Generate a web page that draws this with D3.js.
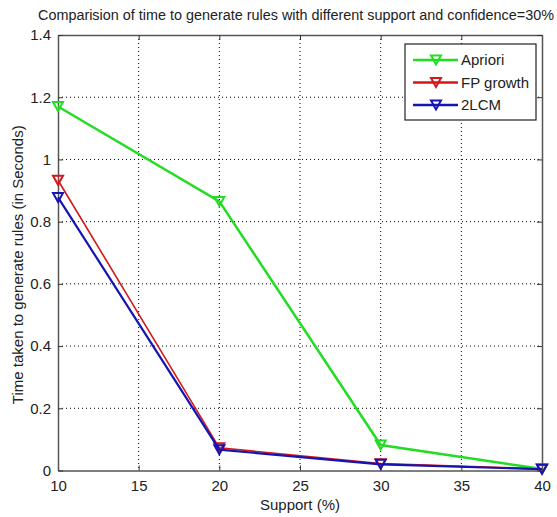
<!DOCTYPE html>
<html>
<head>
<meta charset="utf-8">
<script src="https://cdn.jsdelivr.net/npm/d3@7"></script>
<style>
  body { margin: 0; background: #fff; }
  text { font-family: "Liberation Sans", Arial, sans-serif; fill: #222; }
</style>
</head>
<body>
<svg id="chart"></svg>
<script>
// Data
const support = [10, 20, 30, 40];
const apriori = [1.17, 0.865, 0.082, 0.005];
const fpGrowth = [0.933, 0.073, 0.022, 0.005];
const lcm2 = [0.878, 0.067, 0.02, 0.004];
const xTicks = [10, 15, 20, 25, 30, 35, 40];
const yTicks = [0, 0.2, 0.4, 0.6, 0.8, 1, 1.2, 1.4];
const seriesNames = ["Apriori", "FP growth", "2LCM"];

const series = [
  { name: seriesNames[0], values: apriori, color: "#22dd22", width: 2.5 },
  { name: seriesNames[1], values: fpGrowth, color: "#d21818", width: 1.6 },
  { name: seriesNames[2], values: lcm2, color: "#1414b4", width: 2.2 }
];

const W = 557, H = 517;
const margin = { top: 35, right: 15, bottom: 46.5, left: 58 };
const width = W - margin.left - margin.right;
const height = H - margin.top - margin.bottom;

const svg = d3.select("#chart").attr("width", W).attr("height", H);
const g = svg.append("g").attr("transform", `translate(${margin.left},${margin.top})`);

const x = d3.scaleLinear().domain([10, 40]).range([0, width]);
const y = d3.scaleLinear().domain([0, 1.4]).range([height, 0]);

// grid lines (dotted)
g.selectAll(".vgrid").data(xTicks.slice(1, -1)).enter().append("line")
  .attr("x1", d => x(d)).attr("x2", d => x(d))
  .attr("y1", 0).attr("y2", height)
  .attr("stroke", "#000").attr("stroke-width", 1).attr("stroke-dasharray", "1,3");
g.selectAll(".hgrid").data(yTicks.slice(1, -1)).enter().append("line")
  .attr("x1", 0).attr("x2", width)
  .attr("y1", d => y(d)).attr("y2", d => y(d))
  .attr("stroke", "#000").attr("stroke-width", 1).attr("stroke-dasharray", "1,3");

// axes, ticks pointing inward
const fmt = d => d3.format("~g")(d);
const xAxis = g.append("g").attr("transform", `translate(0,${height})`)
  .call(d3.axisBottom(x).tickValues(xTicks).tickSizeInner(-5).tickSizeOuter(0).tickPadding(10).tickFormat(fmt));
const xTop = g.append("g")
  .call(d3.axisTop(x).tickValues(xTicks).tickSizeInner(-5).tickSizeOuter(0).tickFormat(""));
const yAxis = g.append("g")
  .call(d3.axisLeft(y).tickValues(yTicks).tickSizeInner(-5).tickSizeOuter(0).tickPadding(7).tickFormat(fmt));
const yRight = g.append("g").attr("transform", `translate(${width},0)`)
  .call(d3.axisRight(y).tickValues(yTicks).tickSizeInner(-5).tickSizeOuter(0).tickFormat(""));

[xAxis, xTop, yAxis, yRight].forEach(a => {
  a.select(".domain").attr("stroke", "#555").attr("stroke-width", 1.5);
  a.selectAll(".tick line").attr("stroke", "#333");
  a.selectAll("text").style("font-size", "15px").attr("fill", "#222");
});

// lines
const line = d3.line()
  .x((d, i) => x(support[i]))
  .y(d => y(d));

const tri = "M-5,-4.5L5,-4.5L0,4.5Z";

series.forEach(s => {
  g.append("path")
    .datum(s.values)
    .attr("fill", "none")
    .attr("stroke", s.color)
    .attr("stroke-width", s.width)
    .attr("d", line);
  g.selectAll(null).data(s.values).enter().append("path")
    .attr("d", tri)
    .attr("transform", (d, i) => `translate(${x(support[i])},${y(d)})`)
    .attr("fill", "none")
    .attr("stroke", s.color)
    .attr("stroke-width", 2);
});

// legend
const leg = svg.append("g").attr("transform", "translate(405,44)");
leg.append("rect").attr("width", 131).attr("height", 76)
  .attr("fill", "#fff").attr("stroke", "#222").attr("stroke-width", 1.2);
series.forEach((s, i) => {
  const ly = 16 + i * 22.5;
  leg.append("line").attr("x1", 8).attr("x2", 53).attr("y1", ly).attr("y2", ly)
    .attr("stroke", s.color).attr("stroke-width", 2.5);
  leg.append("path").attr("d", tri).attr("transform", `translate(31,${ly})`)
    .attr("fill", "none").attr("stroke", s.color).attr("stroke-width", 2);
  leg.append("text").attr("x", 56).attr("y", ly + 5).style("font-size", "15px").text(s.name);
});

// title and axis labels
svg.append("text").attr("x", 296).attr("y", 20)
  .attr("text-anchor", "middle").style("font-size", "14px")
  .attr("textLength", 516).attr("lengthAdjust", "spacingAndGlyphs")
  .text("Comparision of time to generate rules with different support and confidence=30%");
svg.append("text").attr("x", margin.left + width / 2).attr("y", 510)
  .attr("text-anchor", "middle").style("font-size", "15px")
  .text("Support (%)");
svg.append("text")
  .attr("transform", `translate(23,${margin.top + height / 2 + 12}) rotate(-90)`)
  .attr("text-anchor", "middle").style("font-size", "15px")
  .text("Time taken to generate rules (in Seconds)");
</script>
</body>
</html>
